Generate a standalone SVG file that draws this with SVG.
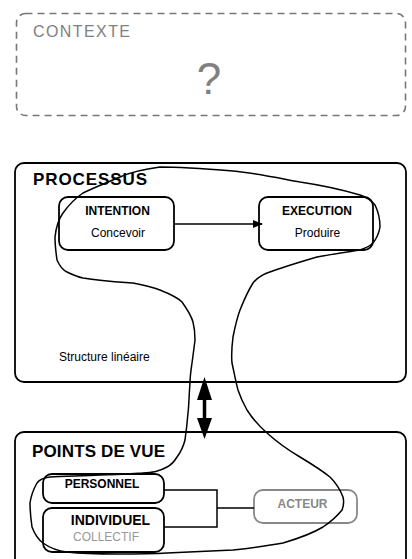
<svg xmlns="http://www.w3.org/2000/svg" width="412" height="559" viewBox="0 0 412 559">
<defs>
<style>
text{font-family:"Liberation Sans",Arial,sans-serif}
.b{font-weight:bold}
.box{fill:none;stroke:#000;stroke-width:1.8}
.conn{fill:none;stroke:#000;stroke-width:1.5}
</style>
<marker id="ah" markerWidth="10" markerHeight="8" refX="9" refY="4" orient="auto" markerUnits="userSpaceOnUse">
<path d="M0,0 L10,4 L0,8 Z" fill="#000"/>
</marker>
</defs>
<rect width="412" height="559" fill="#fff"/>
<g id="contexte">
<rect x="16.5" y="13.5" width="389" height="102" rx="9" fill="none" stroke="#777" stroke-width="1.6" stroke-dasharray="7,5"/>
<text x="33" y="37" font-size="16" fill="#808080" textLength="97" lengthAdjust="spacing">CONTEXTE</text>
<text x="209" y="94" font-size="44" fill="#808080" text-anchor="middle">?</text>
</g>
<g id="processus">
<rect x="15" y="163" width="391" height="219" rx="9" class="box"/>
<text x="33" y="185" font-size="17" class="b" textLength="114" lengthAdjust="spacing">PROCESSUS</text>
<text x="59" y="361" font-size="12">Structure linéaire</text>
</g>
<g id="intention">
<rect x="59" y="197" width="115" height="53" rx="9" class="box"/>
<text x="117.5" y="215" font-size="12" class="b" text-anchor="middle">INTENTION</text>
<text x="118" y="237" font-size="12" text-anchor="middle">Concevoir</text>
</g>
<g id="execution">
<rect x="259" y="197" width="114" height="53" rx="9" class="box"/>
<text x="317" y="215" font-size="12" class="b" text-anchor="middle">EXECUTION</text>
<text x="317.5" y="237" font-size="12" text-anchor="middle">Produire</text>
</g>
<g id="pointsdevue">
<rect x="15" y="432" width="391" height="150" rx="9" class="box"/>
<text x="32" y="457" font-size="17" class="b" textLength="133" lengthAdjust="spacing">POINTS DE VUE</text>
</g>
<g id="personnel">
<rect x="43" y="474" width="121" height="29" rx="9" class="box"/>
<text x="102" y="488" font-size="12" class="b" text-anchor="middle">PERSONNEL</text>
</g>
<g id="individuel">
<rect x="43" y="508" width="121" height="44" rx="9" class="box"/>
<text x="110.5" y="525" font-size="14" class="b" text-anchor="middle">INDIVIDUEL</text>
<text x="106" y="541" font-size="12" fill="#999" text-anchor="middle">COLLECTIF</text>
</g>
<g id="acteur">
<rect x="254" y="490" width="103" height="33" rx="9" fill="none" stroke="#888" stroke-width="1.8"/>
<text x="302.5" y="508" font-size="12" class="b" fill="#888" text-anchor="middle">ACTEUR</text>
</g>
<g id="connectors">
<line x1="174" y1="224" x2="262" y2="224" class="conn" marker-end="url(#ah)"/>
<path d="M164,490 H217 V527 H164 M217,508 H254" class="conn"/>
<line x1="204.5" y1="396" x2="204.5" y2="423" stroke="#000" stroke-width="3.5"/>
<path d="M204.5,377 L212,400 L197,400 Z M204.5,439 L212,418 L197,418 Z" fill="#000"/>
</g>
<g id="lasso">
<path d="M57,260 C60,267 63,270 67,272 C73,275 78,277 83,278 C100,281 118,282 133,283 C143,285 152,287 160,290 C170,294 177,297 182,302 C187,309 191,315 193,322 C195,330 195,336 195,340 C194,348 193,356 192,363 C191,370 190,376 190,383 C189,395 189,405 188,413 C187,425 186,433 185,440 C183,448 180,453 177,457 C174,462 171,465 167,467 C160,471 152,473 143,473 C128,474 115,475 100,475 C80,476 62,476 50,477 C43,478 39,480 37,483 C33,490 31,496 30,503 C30,512 31,520 32,527 C35,535 39,540 43,543 C50,548 58,551 67,552 C85,554 100,554 117,554 C135,554 150,554 167,553 C190,552 210,551 233,550 C250,548 267,546 283,543 C300,538 313,533 323,527 C332,521 338,515 342,510 C344,505 344,501 343,497 C340,489 336,483 330,477 C320,469 310,463 300,457 C288,450 277,442 267,433 C258,425 252,418 247,410 C243,403 240,396 238,390 C236,383 234,372 232,363 C231,353 232,345 233,337 C235,327 237,318 240,310 C244,300 248,291 253,283 C257,278 262,275 267,273 C283,267 300,262 317,257 C332,254 347,252 360,250 C366,248 370,246 373,243 C377,238 379,233 380,227 C380,219 378,211 375,205 C371,200 366,197 360,195 C340,189 320,185 300,182 C278,178 255,173 233,171 C208,169 183,167 160,167 C145,169 131,172 120,177 C106,183 93,188 83,193 C74,199 68,206 63,213 C58,220 56,228 55,237 C55,246 56,253 57,260 Z" fill="none" stroke="#000" stroke-width="1.5"/>
</g>
</svg>
